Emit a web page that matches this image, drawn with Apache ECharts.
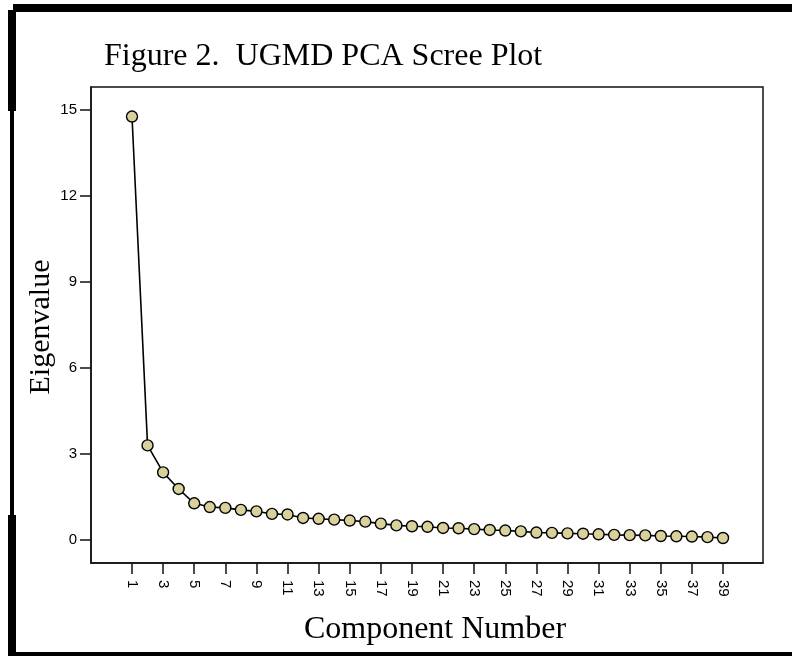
<!DOCTYPE html>
<html>
<head>
<meta charset="utf-8">
<title>UGMD PCA Scree Plot</title>
<script src="https://cdn.jsdelivr.net/npm/echarts@6/dist/echarts.min.js"></script>
<style>
  html, body { margin: 0; padding: 0; background: #fff; }
  #chart { width: 792px; height: 656px; }
</style>
</head>
<body>
<div id="chart"></div>
<script>
  // component numbers 1..39 and their eigenvalues
  const components = [1, 2, 3, 4, 5, 6, 7, 8, 9, 10, 11, 12, 13, 14, 15, 16, 17, 18, 19, 20,
    21, 22, 23, 24, 25, 26, 27, 28, 29, 30, 31, 32, 33, 34, 35, 36, 37, 38, 39];
  const eigenvalues = [14.77, 3.30, 2.36, 1.78, 1.28, 1.15, 1.12, 1.05, 1.00, 0.91,
    0.89, 0.77, 0.74, 0.71, 0.68, 0.64, 0.57, 0.51, 0.48, 0.46,
    0.42, 0.41, 0.38, 0.35, 0.33, 0.30, 0.26, 0.25, 0.23, 0.22,
    0.20, 0.18, 0.17, 0.16, 0.14, 0.13, 0.12, 0.10, 0.07];
  // tick labels
  const xTicks = [1, 3, 5, 7, 9, 11, 13, 15, 17, 19, 21, 23, 25, 27, 29, 31, 33, 35, 37, 39];
  const yTicks = [0, 3, 6, 9, 12, 15];

  const points = components.map((c, i) => [c, eigenvalues[i]]);

  const serif = '"Liberation Serif", "Times New Roman", serif';
  const sans = '"Liberation Sans", Arial, sans-serif';

  let chart = echarts.init(document.getElementById('chart'));
  chart.setOption({
    backgroundColor: '#fff',
    animation: false,
    title: {
      text: 'Figure 2.  UGMD PCA Scree Plot',
      left: 104,
      top: 41,
      padding: 0,
      textStyle: { fontFamily: serif, fontSize: 32, fontWeight: 'normal', color: '#000' }
    },
    grid: {
      left: 91, right: 29, top: 87, bottom: 93,
      show: true,
      borderColor: '#111',
      borderWidth: 1.5
    },
    xAxis: {
      type: 'value',
      min: -1.636,
      max: 41.57,
      name: 'Component Number',
      nameLocation: 'middle',
      nameGap: 51,
      nameTextStyle: { fontFamily: serif, fontSize: 32, color: '#000', padding: [0, 0, 0, 16] },
      axisLine: { show: true, onZero: false, lineStyle: { color: '#111', width: 1.5 } },
      axisTick: { show: true, customValues: xTicks, length: 11, lineStyle: { color: '#111', width: 1.5 } },
      axisLabel: {
        customValues: xTicks,
        rotate: -90,
        margin: 17,
        fontFamily: sans,
        fontSize: 15,
        color: '#000'
      },
      splitLine: { show: false }
    },
    yAxis: {
      type: 'value',
      min: -0.802,
      max: 15.8,
      axisLine: { show: true, onZero: false, lineStyle: { color: '#111', width: 1.5 } },
      axisTick: { show: true, customValues: yTicks, length: 11, lineStyle: { color: '#111', width: 1.5 } },
      axisLabel: {
        customValues: yTicks,
        margin: 14,
        fontFamily: sans,
        fontSize: 15,
        color: '#000'
      },
      splitLine: { show: false }
    },
    series: [
      {
        type: 'line',
        data: points,
        symbol: 'circle',
        symbolSize: 11,
        showAllSymbol: true,
        lineStyle: { color: '#000', width: 1.6 },
        itemStyle: { color: '#d8d19c', borderColor: '#000', borderWidth: 1.4 },
        emphasis: { disabled: true }
      }
    ],
    graphic: [
      // y axis title, placed by hand so it sits close to the tick labels
      {
        type: 'text',
        x: 41, y: 327,
        rotation: Math.PI / 2,
        style: {
          text: 'Eigenvalue',
          font: '30px ' + serif,
          fill: '#000',
          align: 'center',
          verticalAlign: 'middle'
        }
      },
      // thick page frame around the figure
      { type: 'rect', shape: { x: 13, y: 4, width: 779, height: 8 }, style: { fill: '#000' } },
      { type: 'rect', shape: { x: 8, y: 10, width: 8, height: 101 }, style: { fill: '#000' } },
      { type: 'rect', shape: { x: 10, y: 110, width: 4, height: 406 }, style: { fill: '#000' } },
      { type: 'rect', shape: { x: 8, y: 515, width: 8, height: 141 }, style: { fill: '#000' } },
      { type: 'rect', shape: { x: 8, y: 652, width: 784, height: 4 }, style: { fill: '#000' } }
    ]
  });
</script>
</body>
</html>
